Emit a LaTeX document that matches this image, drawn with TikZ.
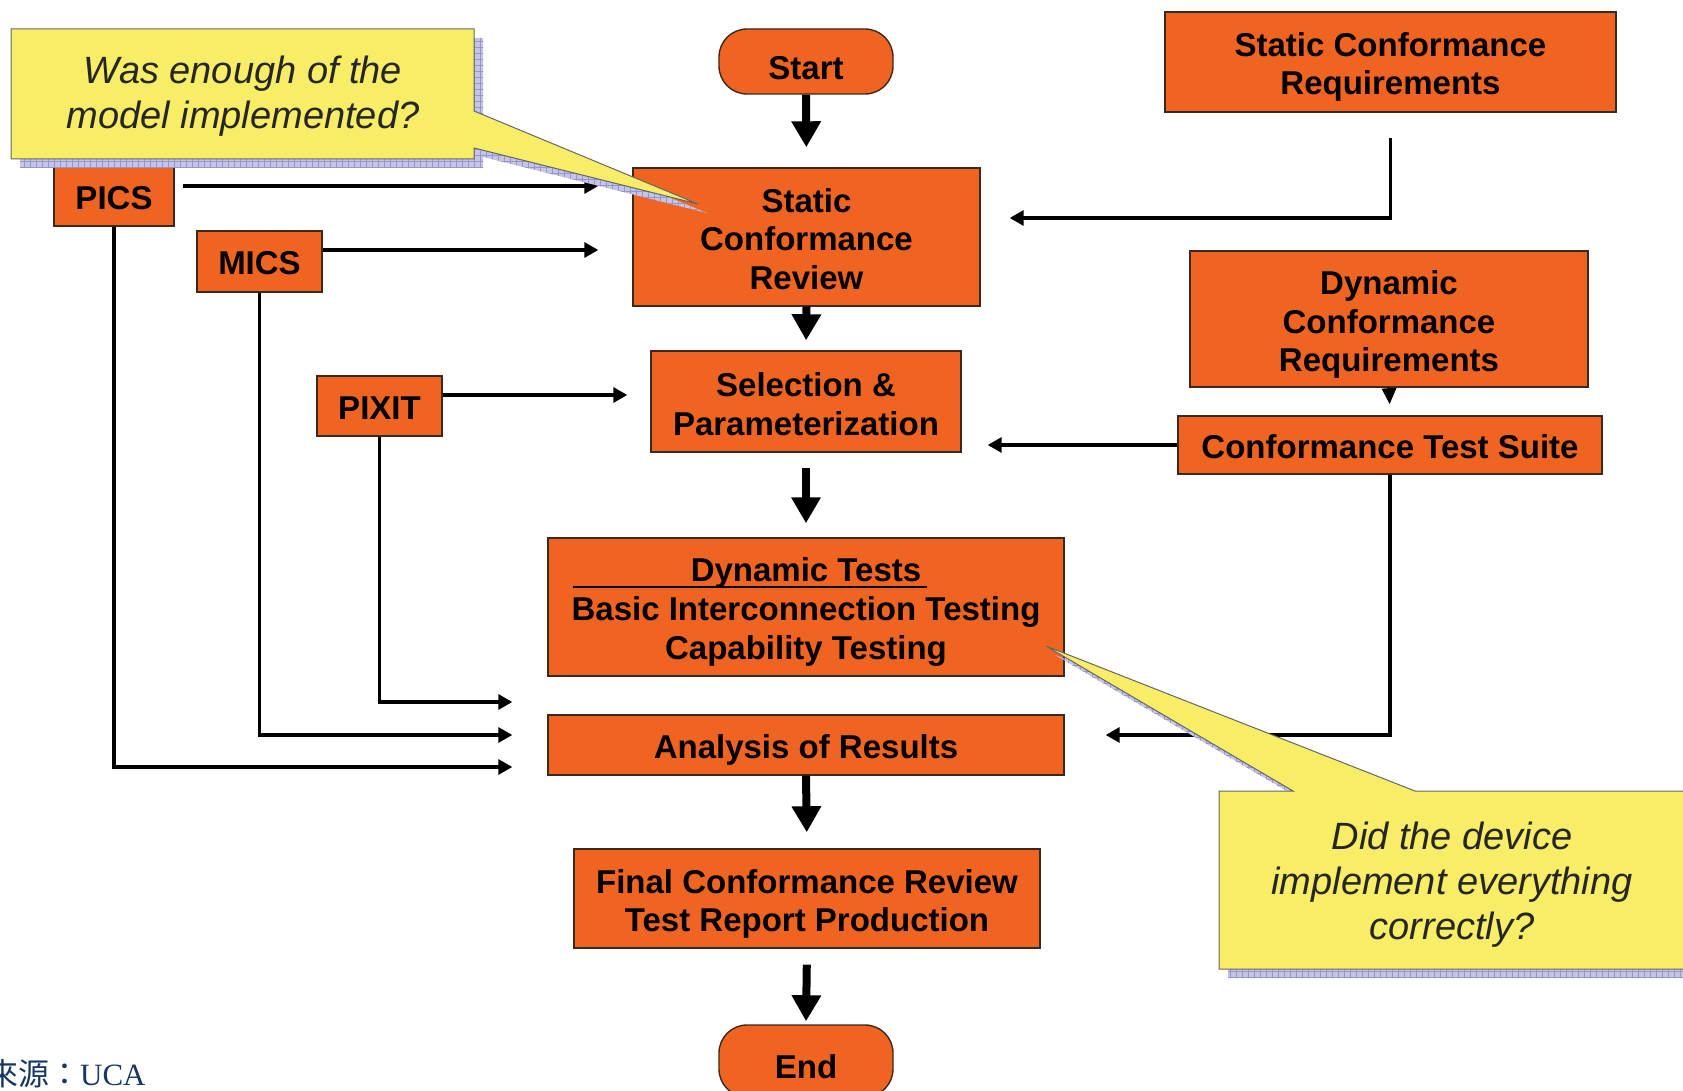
\documentclass[tikz,border=0pt]{standalone}
\usepackage{fontspec}
\setmainfont{Liberation Sans}
\newfontfamily\cjkfont{Noto Sans CJK TC}
\newfontfamily\seriffont{Liberation Serif}
\usetikzlibrary{arrows.meta,calc,patterns}
\definecolor{boxorange}{RGB}{240,100,34}
\definecolor{boxedge}{RGB}{60,40,30}
\definecolor{calloutyellow}{RGB}{247,237,102}
\definecolor{shadowblue}{RGB}{196,196,230}
\definecolor{shadowgrid}{RGB}{150,150,205}
\definecolor{navytext}{RGB}{23,55,94}
\begin{document}
\begin{tikzpicture}[x=0.5pt,y=-0.5pt,
  procbox/.style={draw=boxedge, line width=0.7pt, fill=boxorange, inner sep=0pt, align=center,
    font=\fontsize{16.5pt}{19.3pt}\selectfont\bfseries, text=black,
    execute at begin node={\rule{0pt}{17.3pt}},
    execute at end node={\rule[-4pt]{0pt}{0pt}}},
  termbox/.style={procbox, rounded corners=14pt,
    execute at begin node={\rule{0pt}{21.8pt}}},
  boxlabel/.style={inner sep=0pt, align=center,
    font=\fontsize{16.5pt}{19.3pt}\selectfont\bfseries, text=black},
  thinarr/.style={line width=1.6pt, -{Triangle[length=7pt,width=7.5pt]}},
  thickarr/.style={line width=4pt, -{Triangle[length=13pt,width=14pt]}},
  calloutfill/.style={fill=calloutyellow, draw=black!60, line width=0.5pt},
  callouttext/.style={font=\fontsize{19pt}{22.5pt}\selectfont\itshape, align=center, text=black!85, inner sep=0pt}
]
\useasboundingbox (0,0) rectangle (1683,1091);
\clip (0,0) rectangle (1683,1091);

% main column
\node[termbox, minimum width=87pt, minimum height=32.5pt] (start) at (806,61.5) {Start};
\node[procbox, minimum width=173.5pt, minimum height=69pt] (scr) at (806.5,237) {};
\node[boxlabel] (scr-t) at ($(scr.center)+(0,2)$) {Static\\Conformance\\Review};
\node[procbox, minimum width=155pt, minimum height=50.5pt] (sel) at (806,401.5) {};
\node[boxlabel] (sel-t) at ($(sel.center)+(0,3)$) {Selection \&\\Parameterization};
\node[procbox, minimum width=258pt, minimum height=69pt] (dt) at (806,607) {};
\node[boxlabel] (dt-t) at ($(dt.center)+(0,5)$) {Dynamic Tests\\Basic Interconnection Testing\\Capability Testing};
\node[procbox, minimum width=258pt, minimum height=30pt] (aor) at (806,745) {Analysis of Results};
\node[procbox, minimum width=233pt, minimum height=49.5pt] (final) at (807,898.5) {};
\node[boxlabel] (final-t) at ($(final.center)+(0,5.5)$) {Final Conformance Review\\Test Report Production};
\node[termbox, minimum width=87pt, minimum height=36pt] (end) at (806,1061) {End};

% left inputs
\node[procbox, minimum width=60pt, minimum height=30pt] (pics) at (114,196) {PICS};
\node[procbox, minimum width=62.5pt, minimum height=30.5pt] (mics) at (259.5,261.5) {MICS};
\node[procbox, minimum width=62.5pt, minimum height=30pt] (pixit) at (379.5,406) {PIXIT};

% right inputs
\node[procbox, minimum width=225.5pt, minimum height=50pt] (scrq) at (1390.5,62) {};
\node[boxlabel] (scrq-t) at ($(scrq.center)+(0,5)$) {Static Conformance\\Requirements};
\node[procbox, minimum width=199pt, minimum height=68pt] (dcr) at (1389,319) {};
\node[boxlabel] (dcr-t) at ($(dcr.center)+(0,5.5)$) {Dynamic\\Conformance\\Requirements};
\node[procbox, minimum width=212pt, minimum height=29pt] (cts) at (1390,445) {Conformance Test Suite};

% underline of "Dynamic Tests"
\draw[line width=1.2pt] ($(dt.west)+(26,-20)$) -- ($(dt.west)+(380,-20)$);

% thick flow arrows
\draw[thickarr, shorten >=10pt] (start.south) -- (scr.north);
\draw[thickarr, shorten >=5pt] (scr.south) -- (sel.north);
\draw[thickarr, shorten <=7.5pt, shorten >=7pt] (sel.south) -- (dt.north);
\draw[thickarr, shorten >=8pt] (aor.south) -- (final.north);
\draw[thickarr, shorten <=8pt, shorten >=1.5pt] (final.south) -- (end.north);

% thin arrows
\draw[thinarr] ($(pics.east)+(8,-10)$) -- ($(pics.east -| scr.west)+(-34,-10)$);
\draw[thinarr] ($(mics.east)+(0,-11.5)$) -- ($(mics.east -| scr.west)+(-34,-11.5)$);
\draw[thinarr] ($(pixit.east)+(0,-11)$) -- ($(pixit.east -| sel.west)+(-23,-11)$);
\draw[thinarr] ($(scrq.south)+(0,25)$) |- ($(scr.east)+(29,-19)$);
\draw[thinarr, shorten >=13pt] (cts.west) -- (cts.west -| sel.east);
\draw[thinarr] (cts.south) |- ($(aor.east)+(41,-10)$);
\draw[thinarr] (pixit.south) |- ($(aor.west)+(-35,-43)$);
\draw[thinarr] (mics.south) |- ($(aor.west)+(-35,-10)$);
\draw[thinarr] (pics.south) |- ($(aor.west)+(-35,22)$);
\draw[line width=1.6pt, -{Triangle[length=8pt,width=7pt]}, shorten >=5.5pt] (dcr.south) -- (cts.north);

% callout 1
\fill[shadowblue, shift={(9,9)}] (11,29) -- (474,29) -- (474,111) -- (698,204) -- (474,148) -- (474,159) -- (11,159) -- cycle;
\fill[pattern=grid, pattern color=shadowgrid, shift={(9,9)}] (11,29) -- (474,29) -- (474,111) -- (698,204) -- (474,148) -- (474,159) -- (11,159) -- cycle;
\draw[calloutfill] (11,29) -- (474,29) -- (474,111) -- (698,204) -- (474,148) -- (474,159) -- (11,159) -- cycle;
\node[callouttext] (c1) at (243,96) {Was enough of the\\model implemented?};

% callout 2
\fill[shadowblue, shift={(9,9)}] (1219,791) -- (1293,791) -- (1046,646) -- (1415,791) -- (1700,791) -- (1700,969) -- (1219,969) -- cycle;
\fill[pattern=grid, pattern color=shadowgrid, shift={(9,9)}] (1219,791) -- (1293,791) -- (1046,646) -- (1415,791) -- (1700,791) -- (1700,969) -- (1219,969) -- cycle;
\draw[calloutfill] (1219,791) -- (1293,791) -- (1046,646) -- (1415,791) -- (1700,791) -- (1700,969) -- (1219,969) -- cycle;
\node[callouttext] (c2) at (1452,885) {Did the device\\implement everything\\correctly?};

% source
\node[anchor=base east, text=navytext, inner sep=0pt] (src) at (146,1085)
  {\fontsize{15.5pt}{18pt}\selectfont{\cjkfont 來源：}{\seriffont UCA}};
\end{tikzpicture}
\end{document}
